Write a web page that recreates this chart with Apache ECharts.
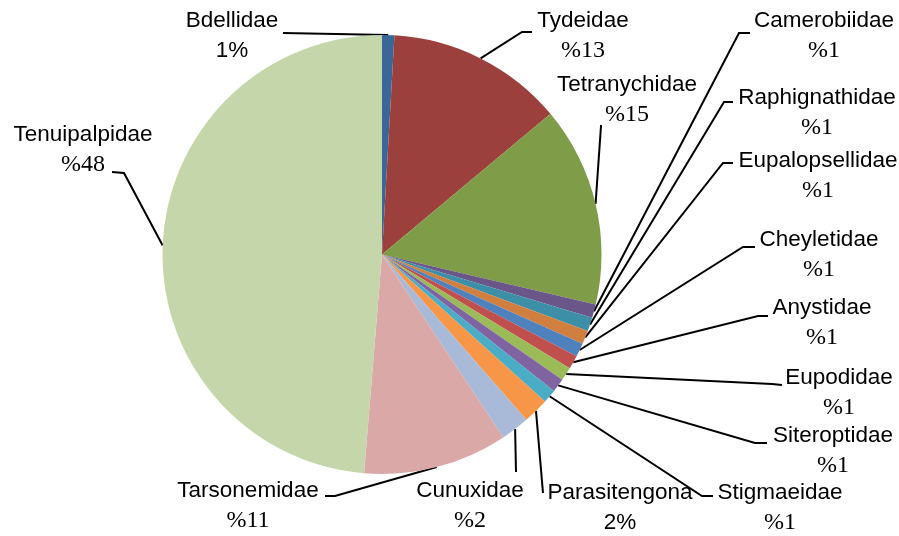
<!DOCTYPE html>
<html>
<head>
<meta charset="utf-8">
<script src="https://cdn.jsdelivr.net/npm/echarts@6/dist/echarts.min.js"></script>
<style>
    html, body { margin: 0; padding: 0; background: #fff; }
    #main { width: 899px; height: 536px; }
</style>
</head>
<body>
<div id="main"></div>
<script>
    // families, clockwise from 12 o'clock
    var names = ['Bdellidae', 'Tydeidae', 'Tetranychidae', 'Camerobiidae', 'Raphignathidae',
        'Eupalopsellidae', 'Cheyletidae', 'Anystidae', 'Eupodidae', 'Siteroptidae',
        'Stigmaeidae', 'Parasitengona', 'Cunuxidae', 'Tarsonemidae', 'Tenuipalpidae'];
    var values = [0.9, 13.0, 14.7, 1.0, 1.0, 1.0, 1.0, 1.0, 1.0, 1.0, 1.0, 1.9, 2.1, 10.6, 48.6];
    // percent text as printed on the chart
    var pctText = ['1%', '%13', '%15', '%1', '%1', '%1', '%1', '%1', '%1', '%1', '%1', '2%', '%2', '%11', '%48'];
    var colors = ['#3A6698', '#9C403E', '#7F9C48', '#6A5689', '#3C8FA6', '#D07F3E', '#4F81BD',
        '#C0504D', '#9BBB59', '#8064A2', '#4BACC6', '#F79646', '#A9BAD9', '#DAA8A7', '#C4D6AA'];

    // label centre and leader line elbow/end (layout only)
    var labelPos = [[232, 36], [583, 36], [627, 100], [824, 36], [817, 113], [818, 176],
        [819, 255], [822, 323], [839, 393], [833, 451], [780, 508], [620, 508],
        [470, 506], [248, 506], [83, 150]];
    var guide = [
        [[283, 33], [283, 33]],
        [[522, 32], [532, 32]],
        [[601, 126], [601, 125]],
        [[739, 33], [750, 33]],
        [[724, 102], [733, 102]],
        [[723, 163], [733, 163]],
        [[743, 247], [755, 247]],
        [[758, 316], [768, 316]],
        [[772, 384], [782, 385]],
        [[755, 443], [767, 443]],
        [[702, 496], [713, 496]],
        [[543, 493], [543, 493]],
        [[516, 472], [516, 472]],
        [[335, 496], [325, 496]],
        [[124, 173], [112, 172]]
    ];

    var myChart = echarts.init(document.getElementById('main'));

    var option = {
        backgroundColor: '#fff',
        animation: false,
        series: [{
            type: 'pie',
            center: [382, 254.5],
            radius: 219.5,
            startAngle: 90,
            clockwise: true,
            avoidLabelOverlap: false,
            data: names.map(function (n, i) {
                return {name: n, value: values[i], itemStyle: {color: colors[i]}};
            }),
            itemStyle: {borderWidth: 0},
            label: {
                show: true,
                position: 'outside',
                formatter: function (p) {
                    var t = pctText[p.dataIndex];
                    var st = t.charAt(0) === '%' ? 'p' : 'q';
                    return '{n|' + p.name + '}\n{' + st + '|' + t + '}';
                },
                rich: {
                    n: {fontFamily: 'Liberation Sans', fontSize: 22.5, lineHeight: 30, color: '#000'},
                    p: {fontFamily: 'Liberation Serif', fontSize: 24, lineHeight: 30, color: '#000'},
                    q: {fontFamily: 'Liberation Sans', fontSize: 22.5, lineHeight: 30, color: '#000'}
                }
            },
            labelLine: {
                show: true,
                length: 5,
                length2: 5,
                lineStyle: {color: '#000', width: 2}
            },
            labelLayout: function (params) {
                var i = params.dataIndex;
                var g = guide[i];
                var s = params.labelLinePoints ? params.labelLinePoints[0] : g[0];
                return {
                    x: labelPos[i][0],
                    y: labelPos[i][1],
                    align: 'center',
                    verticalAlign: 'middle',
                    labelLinePoints: [s, g[0], g[1]]
                };
            }
        }]
    };

    myChart.setOption(option);
</script>
</body>
</html>
